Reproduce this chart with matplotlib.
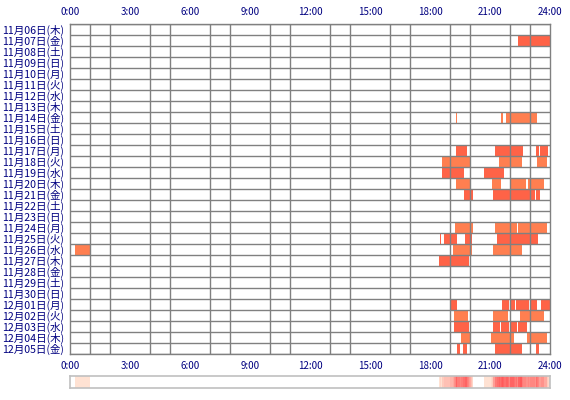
import matplotlib
matplotlib.use("Agg")
import matplotlib.pyplot as plt
import numpy as np
from matplotlib.colors import LinearSegmentedColormap

plt.rcParams['font.family'] = ['Noto Sans CJK JP', 'DejaVu Sans']

day_labels = [
    "11月06日(木)", "11月07日(金)", "11月08日(土)", "11月09日(日)", "11月10日(月)",
    "11月11日(火)", "11月12日(水)", "11月13日(木)", "11月14日(金)", "11月15日(土)",
    "11月16日(日)", "11月17日(月)", "11月18日(火)", "11月19日(水)", "11月20日(木)",
    "11月21日(金)", "11月22日(土)", "11月23日(日)", "11月24日(月)", "11月25日(火)",
    "11月26日(水)", "11月27日(木)", "11月28日(金)", "11月29日(土)", "11月30日(日)",
    "12月01日(月)", "12月02日(火)", "12月03日(水)", "12月04日(木)", "12月05日(金)",
]

hour_labels = ["0:00", "3:00", "6:00", "9:00", "12:00", "15:00", "18:00", "21:00", "24:00"]
hour_ticks = [0, 3, 6, 9, 12, 15, 18, 21, 24]

# activity sessions per day as "HH:MM-HH:MM"
sessions = [
    [],
    ["22:25-24:00"],
    [], [], [], [], [], [],
    ["19:19-19:21", "21:34-21:40", "21:49-23:22"],
    [],
    [],
    ["19:19-19:52", "21:16-22:40", "23:19-23:28", "23:31-23:55"],
    ["18:37-20:03", "21:28-22:37", "23:22-23:52"],
    ["18:37-19:43", "20:43-21:43"],
    ["19:19-20:01", "21:07-21:34", "22:01-22:49", "22:55-23:43"],
    ["19:43-20:10", "21:10-23:16", "23:19-23:31"],
    [],
    [],
    ["19:16-20:10", "21:16-22:22", "22:25-23:52"],
    ["18:31-18:34", "18:43-19:22", "19:46-20:07", "21:22-23:25"],
    ["00:15-01:00", "19:10-20:07", "21:10-22:37"],
    ["18:28-19:58"],
    [], [], [],
    ["19:01-19:22", "21:37-21:58", "22:01-22:16", "22:19-22:58", "23:01-23:22", "23:34-24:00"],
    ["19:13-19:55", "21:10-21:55", "22:31-23:43"],
    ["19:13-19:58", "21:10-21:31", "21:34-21:58", "22:01-22:22", "22:25-22:52"],
    ["19:34-20:04", "21:04-22:13", "22:52-23:52"],
    ["19:22-19:31", "19:40-19:52", "21:16-22:37", "23:19-23:28"],
]

row_colors = ["#FF7F50", "#FF6347"]  # even rows coral, odd rows tomato


def to_hours(s):
    h, m = s.split(":")
    return int(h) + int(m) / 60.0


W, H = 570, 400
fig = plt.figure(figsize=(W / 100, H / 100), dpi=100)
fig.patch.set_facecolor("white")

ax = fig.add_axes([70 / W, 1 - 354 / H, 480 / W, 330 / H])
n = len(day_labels)
for i, day in enumerate(sessions):
    spans = []
    for s in day:
        a, b = s.split("-")
        st, en = to_hours(a), to_hours(b)
        spans.append((st, en - st))
    if spans:
        ax.broken_barh(spans, (i, 1), facecolors=row_colors[i % 2], edgecolor="none", zorder=1)

ax.set_xlim(0, 24)
ax.set_ylim(n, 0)
ax.set_xticks(range(25), minor=True)
ax.set_yticks(range(n + 1), minor=True)
ax.set_xticks(hour_ticks)
ax.set_xticklabels(hour_labels)
ax.set_yticks(np.arange(n) + 0.5)
ax.set_yticklabels(day_labels)
ax.grid(which="minor", color="#808080", linewidth=1.0, zorder=3)
ax.set_axisbelow(False)
ax.tick_params(which="both", length=0)
ax.tick_params(axis="x", labeltop=True, labelbottom=True, labelsize=7, colors="#000080", pad=5)
ax.tick_params(axis="y", labelsize=7.6, colors="#000080", pad=4)
for sp in ax.spines.values():
    sp.set_color("#808080")
    sp.set_linewidth(1.0)

# heat strip
minutes = np.zeros(24 * 60)
for day in sessions:
    for s in day:
        a, b = s.split("-")
        st, en = int(round(to_hours(a) * 60)), int(round(to_hours(b) * 60))
        minutes[st:en] += 1
mx = minutes.max()
cmap = LinearSegmentedColormap.from_list(
    "heat", [(0, "#FFFFFF"), (1 / mx, "#FFE2D2"), (1, "#FF5A5A")])
hx = fig.add_axes([70 / W, 1 - 388 / H, 480 / W, 12 / H])
hx.imshow(minutes[None, :], aspect="auto", cmap=cmap, vmin=0, vmax=mx,
          extent=[0, 24, 0, 1], interpolation="nearest")
hx.set_xlim(0, 24)
hx.set_xticks([])
hx.set_yticks([])
for sp in hx.spines.values():
    sp.set_color("#C0C0C0")
    sp.set_linewidth(1.2)

fig.savefig("out.png", dpi=100)
